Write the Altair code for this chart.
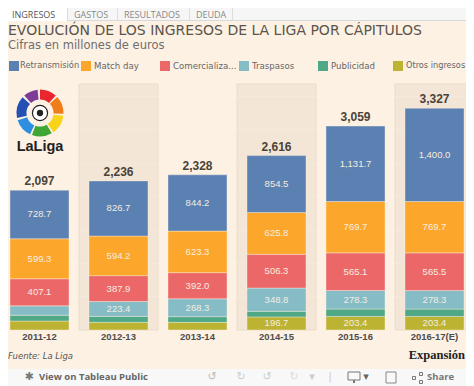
import altair as alt
import pandas as pd

years = ["2011-12", "2012-13", "2013-14", "2014-15", "2015-16", "2016-17(E)"]
totals = [2097, 2236, 2328, 2616, 3059, 3327]
series = ["Retransmisión", "Match day", "Comercialización", "Traspasos", "Publicidad", "Otros ingresos"]
legend_labels = ["Retransmisión", "Match day", "Comercializa...", "Traspasos", "Publicidad", "Otros ingresos"]
colors = ["#5b80b2", "#fca72b", "#ec6868", "#86bcc6", "#4fa987", "#bdb333"]
retrans = [728.7, 826.7, 844.2, 854.5, 1131.7, 1400.0]
matchday = [599.3, 594.2, 623.3, 625.8, 769.7, 769.7]
comercial = [407.1, 387.9, 392.0, 506.3, 565.1, 565.5]
traspasos = [140, 223.4, 268.3, 348.8, 278.3, 278.3]
publicidad = [87, 89, 85, 84, 111, 110]
otros = [135, 115, 115, 196.7, 203.4, 203.4]
shaded_years = ["2012-13", "2014-15", "2016-17(E)"]
grid_values = [500, 1000, 1500, 2000, 2500, 3000, 3500]
band_top = 3690
BG = "#fdf1e3"
M = 8            # page margin
W, H = 474, 386  # window size

rows = []
for i, yr in enumerate(years):
    vals = [retrans[i], matchday[i], comercial[i], traspasos[i], publicidad[i], otros[i]]
    base = 0
    for name, v in reversed(list(zip(series, vals))):
        show = not (v < 150)
        rows.append({"year": yr, "serie": name, "v0": base, "v1": base + v,
                     "mid": base + v / 2, "label": f"{v:,.1f}" if show else ""})
        base += v
stack = pd.DataFrame(rows)
tot = pd.DataFrame({"year": years, "total": totals, "txt": [f"{t:,}" for t in totals]})
shade = pd.DataFrame({"year": shaded_years, "a": [0] * 3, "b": [band_top] * 3})
grid = pd.DataFrame({"v": grid_values})

x = alt.X("year:N", sort=years, axis=None,
          scale=alt.Scale(domain=years, range=[-M, W - M], paddingInner=0, paddingOuter=0))
yscale = alt.Scale(domain=[-840, 4950], range=[H - M, -M], nice=False, zero=False)
y = lambda f: alt.Y(f, axis=None, scale=yscale)

one = pd.DataFrame({"k": [0]})

def box(x0, x1, y0, y1, color):
    return alt.Chart(one).mark_rect(color=color).encode(
        x=alt.value(x0 - M), x2=alt.value(x1 - M), y=alt.value(y0 - M), y2=alt.value(y1 - M))

def outline(x0, x1, y0, y1, color):
    return alt.Chart(one).mark_rect(fill="transparent", stroke=color, strokeWidth=1).encode(
        x=alt.value(x0 - M), x2=alt.value(x1 - M), y=alt.value(y0 - M), y2=alt.value(y1 - M))

def dot(px, py, size, color):
    return alt.Chart(one).mark_point(filled=True, size=size, color=color, opacity=1, shape="circle").encode(
        x=alt.value(px - M), y=alt.value(py - M))

def label(t, px, py, size=9, color="#555", font="DejaVu Sans", weight="normal", style="normal", align="left"):
    return alt.Chart(one).mark_text(text=t, fontSize=size, color=color, font=font, fontWeight=weight,
                                    fontStyle=style, align=align, baseline="middle").encode(
        x=alt.value(px - M), y=alt.value(py - M))

layers = [box(0, W, 0, H, BG)]

# shaded bands + grid
layers.append(alt.Chart(shade).mark_rect(color="#f3e6d6", stroke="#e9dcca", strokeWidth=1).encode(
    x=x, y=y("a:Q"), y2="b:Q"))
layers.append(alt.Chart(grid).mark_rule(color="#ffffff", opacity=0.18, strokeWidth=1).encode(
    x=alt.value(0), x2=alt.value(W), y=y("v:Q")))

# bars
layers.append(alt.Chart(stack).mark_bar(size=59, stroke="#fdf1e3", strokeWidth=0.4).encode(
    x=x, y=y("v0:Q"), y2="v1:Q",
    color=alt.Color("serie:N", scale=alt.Scale(domain=series, range=colors), legend=None)))
layers.append(alt.Chart(stack).mark_text(fontSize=9.5, color="#f4ede0", font="Liberation Sans", baseline="middle").encode(
    x=x, y=y("mid:Q"), text="label:N"))
layers.append(alt.Chart(tot).mark_text(fontSize=12, fontWeight="bold", color="#4a4338", font="Liberation Sans", baseline="bottom", dy=-2).encode(
    x=x, y=y("total:Q"), text="txt:N"))
xl = pd.DataFrame({"year": years, "v": [-105] * 6})
layers.append(alt.Chart(xl).mark_text(fontSize=9.5, fontWeight="bold", color="#4d4d4d", font="Liberation Sans", baseline="middle").encode(
    x=x, y=y("v:Q"), text="year:N"))

# titles
layers.append(label("EVOLUCIÓN DE LOS INGRESOS DE LA LIGA POR CÁPITULOS", 8, 31, size=14, color="#5a544a"))
layers.append(label("Cifras en millones de euros", 8, 46, size=11.5, color="#6e6e6e"))

# legend
legend_x = [9, 81, 160, 239, 318, 393]
legend_size = [8.3, 8.6, 8.6, 8.6, 8.6, 8.2]
for i, (name, col) in enumerate(zip(legend_labels, colors)):
    sx = legend_x[i]
    layers.append(box(sx, sx + 10, 61, 71, col))
    layers.append(label(name, sx + (11 if i == 0 else 13), 66, size=legend_size[i], color="#666"))

# logo
wheel_colors = ["#7d3c98", "#e8262c", "#f07d1a", "#f7d417", "#3fa535", "#2e8fe0", "#2450b4"]
wheel_from = [-42, 0, 47, 97, 150, 205, 258]
wheel_to = [-6, 42, 92, 145, 200, 252, 312]
wheel = pd.DataFrame({"c": wheel_colors,
                      "a": [d * 3.14159 / 180 for d in wheel_from],
                      "b": [d * 3.14159 / 180 for d in wheel_to]})
layers.append(alt.Chart(wheel).mark_arc(innerRadius=13.5, outerRadius=23.5).encode(
    x=alt.value(40 - M), y=alt.value(113 - M),
    theta=alt.Theta("a:Q", scale=None), theta2="b:Q",
    color=alt.Color("c:N", scale=None)))
layers.append(alt.Chart(one).mark_point(filled=True, size=230, color="#ffffff", stroke="#222", strokeWidth=1.2, opacity=1, shape="circle").encode(
    x=alt.value(40 - M), y=alt.value(113 - M)))
layers.append(dot(40, 113, 40, "#222"))
layers.append(label("LaLiga", 40, 147, size=14.5, color="#222", font="Liberation Sans", weight="bold", align="center"))

# footer
layers.append(label("Fuente:  La Liga", 8, 356, size=8.5, color="#555", style="italic"))
layers.append(label("Expansión", 465, 355, size=12.5, color="#222", font="Liberation Serif", weight="bold", align="right"))

# tab bar (the page margin hides the first 8 px of the picture)
layers.append(box(0, W, 0, 20, "#f6f6f6"))
layers.append(box(0, W, 20, 21, "#d9d9d9"))
layers.append(box(8, 67, 0, 21, "#ffffff"))
for dx in [67, 117, 189, 232]:
    layers.append(box(dx, dx + 1, 0, 21, "#dddddd"))
for t, px, c in [("INGRESOS", 12, "#555"), ("GASTOS", 74, "#888"), ("RESULTADOS", 124, "#888"), ("DEUDA", 196, "#888")]:
    layers.append(label(t, px, 14.5, size=9, color=c, font="Open Sans"))

# toolbar
layers.append(box(0, W, 369, H, "#f8f8f8"))
layers.append(label("View on Tableau Public", 39, 377, size=9.5, color="#666", font="Open Sans", weight="bold"))
layers.append(label("✱", 29, 377, size=11, color="#777", align="center"))
for gl, px, c in [("↺", 212, "#bbb"), ("↻", 241, "#ccc"), ("↺", 267, "#ccc"), ("↻", 294, "#ddd"),
                  ("▾", 312, "#ccc"), ("|", 330, "#ccc"), ("▾", 366, "#666")]:
    layers.append(label(gl, px, 377, size=11, color=c, align="center"))
layers.append(outline(348, 360, 372, 380, "#777"))
layers.append(box(353, 355, 380, 383, "#777"))
layers.append(outline(386, 396, 372, 383, "#888"))
for sx, sy in [(414, 378), (421, 374), (421, 382)]:
    layers.append(outline(sx - 1.5, sx + 1.5, sy - 1.5, sy + 1.5, "#777"))
layers.append(label("Share", 427, 377, size=9.5, color="#777", font="Open Sans", weight="bold"))

chart = alt.layer(*layers).properties(
    width=W - 2 * M, height=H - M,
    autosize=alt.AutoSizeParams(type="none"),
    padding=0,
    background=BG,
).configure_view(stroke=None).resolve_scale(color="independent")

chart.save("out.html", embed_options={"renderer": "svg", "actions": False})
